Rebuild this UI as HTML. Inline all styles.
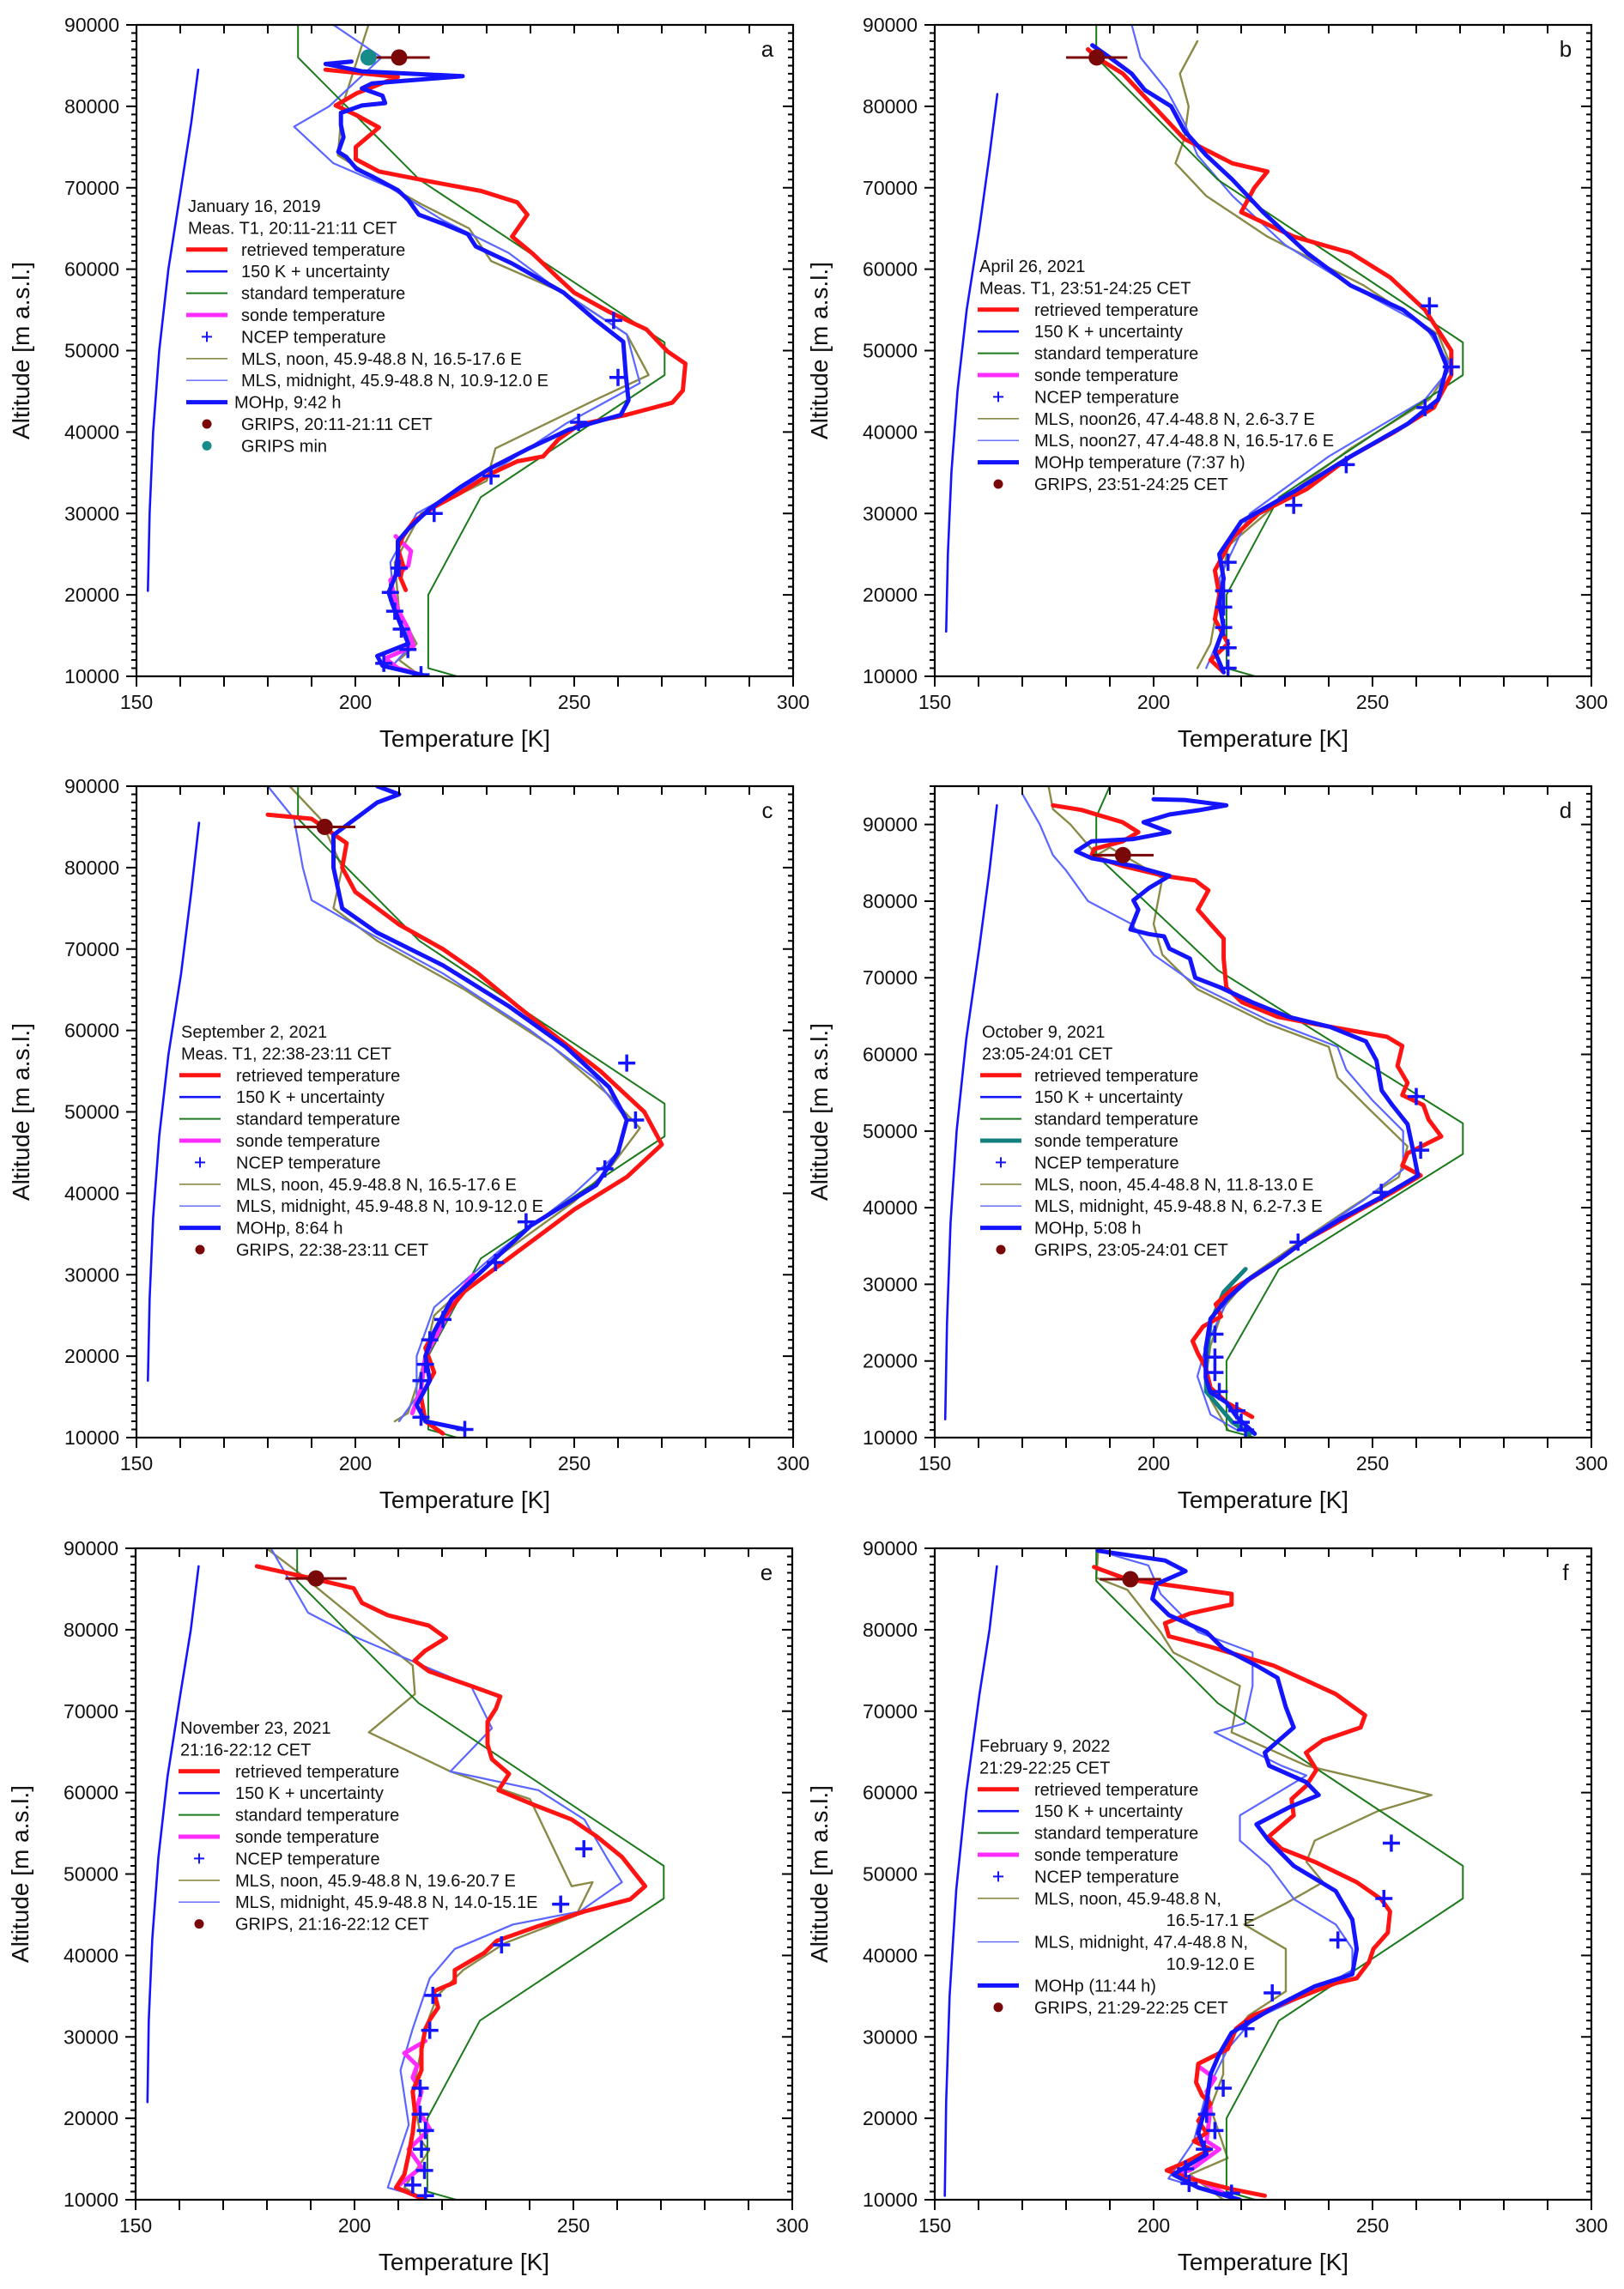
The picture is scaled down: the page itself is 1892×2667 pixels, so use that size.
<!DOCTYPE html>
<html><head><meta charset="utf-8"><title>Temperature profiles</title>
<style>
html,body{margin:0;padding:0;background:#fff;}
svg{display:block;font-family:"Liberation Sans",Arial,sans-serif;}
</style></head>
<body>
<svg id="fig" xmlns="http://www.w3.org/2000/svg" width="1892" height="2667" viewBox="0 0 1892 2667">
<rect x="0" y="0" width="1892" height="2667" fill="#fff"/>
</svg>
<script>
// ---------- data (temperature K, altitude km) ----------
const stdProfile = [[223.2,10],[216.65,11],[216.65,20],[228.65,32],[270.65,47],[270.65,51],[214.65,71],[186.9,86],[186.9,91],[190,95]];

// panel a
const a_unc = [[152.6,20.5],[153,30],[153.8,40],[155.2,50],[157.3,60],[160.2,70],[162.5,78],[164.1,84.5]];
const a_ret = [[193.2,84.5],[209.7,83.6],[200.3,81.6],[195.5,80.1],[200.3,78.9],[205.4,77.4],[200.1,75],[200.1,73.5],[205.4,72],[216.8,70.8],[228.7,69.6],[237,68.2],[239.3,66.7],[235.8,64],[240.5,61.9],[246.4,58.9],[250,57.1],[258.2,54.7],[266.5,52.6],[271.3,49.9],[275.4,48.4],[274.8,45.1],[272.4,43.6],[261.8,42.1],[251.1,40.9],[246.4,39.1],[242.9,37],[237,36.4],[231,34.9],[223.9,32.5],[218,30.8],[213.3,29],[210.9,27.2],[209.7,25.7],[210.9,23.6],[210.3,22.1],[211.5,20.6]];
const a_sonde = [[215.7,10.1],[209.7,11],[206.8,12.2],[213.3,13.7],[212.1,15.8],[209.7,18.2],[208,21.8],[212.1,23.6],[212.7,25.4],[209.2,27.2]];
const a_mohp = [[215.7,10.1],[206.2,11.3],[205,12.5],[212.1,14],[210.3,16.4],[208.5,18.8],[207.6,20.3],[209.2,22.4],[209.7,24.8],[209.7,26.6],[212.1,28.1],[216.8,30.5],[223.9,33.2],[231,35.6],[239.3,37.9],[248.8,40.3],[260.6,42.1],[262.4,43.9],[261.8,46.9],[261.2,51.1],[254.7,53.8],[247.6,57.1],[241.7,58.9],[235.8,60.7],[227.5,62.8],[225.7,64.3],[220.4,65.5],[214.5,66.7],[212.1,68.5],[209.7,69.7],[203.8,71.4],[200.3,72.3],[197.9,73.8],[196.1,74.4],[197.3,76.2],[196.7,77.7],[196.7,79.2],[201.5,80.1],[206.8,80.4],[206.2,81.3],[201.5,82.2],[203.8,82.8],[210.3,83.1],[224.5,83.7],[201.5,84.3],[193.2,85.2],[199.1,85.5]];
const a_noon = [[215,10],[210,12],[214,14],[210,18],[209,24],[215,30],[230,34],[232,38],[255,44],[267,47],[262,52],[248,57],[231,61],[226,65],[215,68],[205,71],[196,74],[197,80],[200,85],[203,90]];
const a_mid = [[208,11],[213,14],[209,18],[208,24],[214,30],[231,35],[248,41],[265,46],[262,52],[245,58],[235,62],[220,66],[208,70],[195,73],[186,77.5],[194,80],[200,83],[206,86],[195,90]];
const a_ncep = [[215,10.2],[206.5,11.6],[212,13.3],[210.5,15.8],[209,18],[208,20.3],[210,23.3],[218,30],[231,34.6],[251,41.2],[260,46.7],[259,53.7]];
const a_grips = [[210,86]];
const a_gripsMin = [[203,86]];

// panel b
const b_unc = [[152.6,15.5],[153,25],[153.8,35],[155.2,45],[157.3,55],[160.2,65],[162.5,74],[164.3,81.5]];
const b_ret = [[216,10.5],[213,12],[217,14],[214,17],[215,20],[214,23],[218,27],[224,30],[235,33],[245,37],[255,40],[264,43],[268,47],[268,50],[262,55],[254,59],[245,62],[232,64],[220,67],[223,70],[226,72],[218,73],[207,76],[200,80],[193,84],[187,86],[185,87]];
const b_mohp = [[216,10.5],[214,13],[216,16],[215,19],[216,22],[215,25],[220,29],[233,33],[245,37],[258,41],[265,44],[267,48],[264,52],[257,55],[245,58],[235,62],[225,67],[218,71],[212,74],[207,77],[204,80],[198,82],[195,84],[190,86],[186,87.5]];
const b_noon = [[210,11],[213,14],[215,20],[217,26],[230,32],[245,38],[263,44],[268,48],[265,52],[248,58],[226,64],[212,69],[205,73],[207,76],[208,80],[206,84],[210,88]];
const b_mid = [[212,11],[216,16],[215,22],[222,30],[240,37],[262,44],[268,48],[262,53],[245,58],[230,63],[218,69],[210,74],[207,78],[203,82],[197,86],[195,90]];
const b_ncep = [[217,11],[217,13.5],[216,16],[216,18.5],[216,20.5],[217,24],[232,31],[244,36],[262,43],[268,48],[263,55.5]];
const b_grips = [[187,86]];

// panel c
const c_unc = [[152.6,17],[153,27],[153.8,37],[155.2,47],[157.3,57],[160.2,67],[162.5,77],[164.3,85.5]];
const c_ret = [[220,10.5],[216,12],[215,15],[218,18],[216,21],[219,24],[225,28],[235,32],[250,38],[262,42],[270,46],[266,50],[256,55],[244,60],[237,63],[228,67],[220,70],[210,73],[200,77],[197,80],[198,83],[190,86],[180,86.5]];
const c_mohp = [[225,11],[216,12],[214,14],[217,17],[216,20],[218,23],[222,27],[230,31],[240,36],[255,41],[260,45],[262,49],[258,53],[248,58],[235,63],[220,68],[205,72],[197,75],[195,80],[195,84],[200,86],[205,88],[210,89],[205,90]];
const c_noon = [[209,12],[212,13],[215,18],[218,25],[232,32],[250,39],[258,43],[265,48],[258,52],[245,58],[225,65],[205,71],[195,75],[197,80],[192,86],[185,90]];
const c_mid = [[210,12],[214,15],[214,20],[218,26],[233,33],[250,40],[260,45],[262,49],[255,54],[240,60],[220,67],[203,72],[190,76],[188,80],[186,86],[180,90]];
const c_ncep = [[225,11],[215,12.5],[215,17],[216,19],[217,22],[220,24.5],[232,31.5],[239,36.5],[257,43],[264,49],[262,56]];
const c_sonde = [[213,13],[215,16],[216,20],[220,24],[224,28],[227,30]];
const c_grips = [[193,85]];

// panel d
const d_unc = [[152.4,12.4],[152.8,25],[153.6,38],[155,50],[157.2,62],[160.2,74],[162.5,84],[164.2,92.5]];
const d_ret = [[222.5,12.7],[216.6,14.6],[213,16.5],[211.9,19.1],[210.1,21],[208.9,22.6],[211.3,24.5],[215.4,25.8],[214.2,27.4],[217.8,29.3],[222.5,30.9],[228.4,33.1],[234.3,35.6],[240.3,37.5],[247.4,39.8],[254.5,42],[261,44.2],[256.8,45.5],[258,47.1],[265.7,49.3],[262.8,51.5],[261.6,53.4],[256.8,54.7],[258,56.3],[255.7,58.5],[256.8,61.1],[253.3,62.3],[240.3,63.6],[228.4,64.9],[220.2,66.8],[216.6,68.7],[216,72.5],[216,75.1],[213,77],[210.1,78.9],[212.5,81.4],[209.5,82.7],[202.4,83.3],[192.9,84.6],[185.8,85.9],[186.4,86.8],[192.9,87.8],[196.5,89],[192.9,90.3],[183.5,91.9],[177,92.5]];
const d_mohp = [[223.1,10.5],[219,12.7],[216.6,14.6],[213,15.9],[211.9,17.8],[211.9,21.6],[213,25.5],[216.6,28],[221.3,30.5],[228.4,33.1],[234.3,35.6],[242.6,38.5],[252.1,41.4],[260.4,44.2],[259.2,47.7],[258,50.9],[254.5,53.4],[252.1,55.3],[250.9,59.2],[248.5,61.7],[240.3,63.6],[230.8,64.9],[222.5,66.8],[215.4,68.7],[209.5,70],[208.3,72.5],[203.6,73.8],[202.4,75.4],[198.9,75.7],[194.7,76.3],[196.5,78.9],[195.4,80.1],[198.9,81.7],[203.6,83.3],[195.4,84.6],[185.8,85.6],[182.3,86.5],[185.8,87.8],[195.4,88.1],[203.6,89],[197.7,90.3],[203.6,91.3],[210.7,91.9],[216.6,92.5],[207.1,93.2],[200,93.3]];
const d_noon = [[217,11],[215,13],[213,15],[212,18],[213,22],[216,27],[222,31],[232,35],[245,40],[256,44],[258,48],[249,53],[242,57],[240,61],[226,64],[210,68.5],[202,73],[200,77],[202,83],[190,87],[187,86],[181,90],[177,92],[176,95]];
const d_mid = [[219,11],[213,13],[210,18],[212,22],[217,28],[225,32],[235,36],[248,41],[257,45],[257,50],[250,54],[244,58],[242,61],[226,64.5],[210,69],[200,73],[195,77],[185,80],[180,84],[177,86],[174,90],[170,94]];
const d_ncep = [[221,11],[220,12],[219,13.5],[215,16],[214,18.5],[214,20.5],[214,23.5],[233,35.5],[252,42],[261,47.5],[260,54.5]];
const d_sonde = [[222,10.5],[218,12],[215,14],[212,16],[212,20],[213,25],[216,29],[221,32]];
const d_grips = [[193,86]];

// panel e
const e_unc = [[152.7,22],[153,32],[153.8,42],[155.2,52],[157.3,62],[160.2,72],[162.6,80],[164.4,87.8]];
const e_ret = [[177.7,87.8],[190.3,86.3],[199.8,85.1],[201.7,83.3],[207.5,81.8],[217,80.5],[220.9,79],[216.1,77.4],[213.7,76.2],[217,74.9],[226.6,73.1],[233.3,71.8],[232.3,70.3],[230.4,68.7],[230.4,65.9],[231.4,64.1],[235.3,62.3],[232.9,60.3],[241,58.5],[249.6,56.7],[255.4,54.6],[261.1,52.1],[266.4,48.5],[263,46.9],[252.5,45.4],[242,43.6],[232.5,41.8],[229.6,40.3],[222.9,38.2],[222.9,36.7],[218.1,35.6],[219.1,33.6],[217.2,32.1],[216.2,31],[215.3,28.5],[215.3,25.9],[213.3,23.3],[213.8,20.8],[213.3,18.2],[212.4,15.6],[211.4,13.1],[209.5,11.5],[216.2,10]];
const e_noon = [[179.9,90],[187.5,86.9],[203.8,79.7],[213.3,75.6],[213.8,72.1],[203.3,67.4],[221.9,62.6],[240.1,59.2],[249.6,48.5],[254.4,49],[250.6,44.9],[234.3,41.5],[224.8,38.2],[219,35.1],[217.2,32.6],[215.3,28.5],[213.3,23.3],[215.3,17.2],[217,16],[211.4,11.5],[216,10]];
const e_mid = [[180.9,90],[189.4,82.1],[199.8,79.2],[226.6,73.1],[231.4,67.9],[221.9,62.6],[242,60.3],[252.5,56.7],[258.2,51.5],[261.1,49],[251.5,45.4],[236.2,43.8],[222.9,40.8],[217.2,37.2],[213.3,31],[210.5,25.9],[212.4,19.2],[207.6,11.5],[214,10.5]];
const e_ncep = [[252.4,53.1],[247.1,46.3],[233.6,41.3],[217.9,35.1],[217.2,30.8],[215,23.7],[215,20.5],[216.2,18.5],[215.3,16.2],[216,13.6],[213.3,11.8],[216.2,10.5]];
const e_sonde = [[216.2,29.5],[211.4,28],[214.3,26.5],[213.3,25],[215.3,23.3],[214.3,21.3],[217.2,18.7],[212.4,16.2],[215.3,14],[209.5,11.5],[216.2,10]];
const e_grips = [[191.2,86.3]];

// panel f
const f_unc = [[152.3,10.5],[152.6,22],[153.4,35],[154.9,48],[157.2,60],[160.2,72],[162.5,80],[164.2,87.8]];
const f_ret = [[186.4,87.7],[194,86.2],[204.5,85.4],[217.8,84.4],[217.8,83.1],[208.3,82],[202.6,80.8],[203.5,79.2],[213,77.9],[227.4,75.6],[241.6,72.1],[248.3,69.5],[247.3,68],[238.6,66.4],[234.8,64.9],[237.2,62.8],[234.8,60.8],[231.5,59.2],[232,57.2],[226.3,54.6],[229.2,53.1],[236.8,51.5],[246.4,49],[252,46.9],[254,45.4],[253.5,42.8],[250.2,40.8],[249.2,39.2],[246.4,37.2],[241.6,36.6],[232,34.6],[222.6,32.6],[218.8,31],[216.9,28.5],[210.2,26.7],[209.7,24.4],[211.1,22.8],[213,21.8],[210.2,19.7],[212.1,18.2],[209.2,17.2],[213,16.2],[207.3,14.6],[203,13.6],[208.3,12.6],[217.8,11.3],[225.4,10.5]];
const f_mohp = [[187.3,89.7],[202.6,88.5],[207.3,87.2],[200.6,85.6],[199.7,83.8],[203.5,81.8],[212.1,79.7],[215.9,77.7],[223.5,75.6],[228.3,74.1],[230.2,70.5],[232,68],[225.4,64.9],[226.4,63.3],[234.8,61.3],[237.7,59.7],[231,58.2],[223.5,56.1],[226.3,54.1],[232,51],[241.6,47.9],[245.4,44.4],[246.4,40.8],[245.4,37.7],[236.8,36.2],[227.4,33.6],[217.8,30.5],[215,27.9],[213,25.4],[212.1,21.8],[210.2,18.2],[212.1,15.6],[204.5,13.1],[210.2,11.5],[219.7,10]];
const f_noon = [[187.3,89.5],[186.9,86.4],[194,84.9],[201.6,79.7],[204.5,77.2],[219.7,73.1],[217.8,67.4],[234.9,63.3],[263.5,59.7],[251.1,57.7],[236.8,54.1],[234.9,51.5],[238.7,49],[230.2,46.4],[220.7,43.8],[230.2,40.8],[230.2,35.6],[221.6,32.6],[215.9,28.5],[215.9,25.4],[213,21.3],[216.9,15.1],[208.3,13.1],[215.9,10]];
const f_mid = [[187.3,89.7],[198.8,87.9],[201.6,84.4],[210.2,79.7],[222.6,77.2],[222.6,73.1],[220.7,68.5],[213.9,67.4],[229.2,63.3],[234.9,62.1],[219.7,57.2],[219.7,54.1],[226.4,51],[232.1,46.9],[241.6,43.8],[245.4,40.8],[245.4,38.2],[236.8,35.6],[222.6,32.1],[216.9,28.5],[212.1,23.3],[209.2,17.2],[203.4,12.6],[210.2,11.5]];
const f_ncep = [[254.3,53.8],[252.6,47],[242.1,41.9],[227.1,35.4],[221.1,31],[215.9,23.7],[212.1,20.5],[214,18.5],[211.6,16.2],[207.3,13.8],[208.1,12],[217.8,10.8]];
const f_sonde = [[210.2,26.4],[214,24.9],[212.1,23.3],[213,21.3],[212.1,17.2],[215,16.2],[208.3,13.6],[205,13.3],[212,12],[218,10.2]];
const f_grips = [[194.7,86.2]];

// axis tick values
const xTickLabels = [150,200,250,300];
const yTickLabels = [10000,20000,30000,40000,50000,60000,70000,80000,90000];

// legend texts
const a_title = ["January 16, 2019","Meas. T1, 20:11-21:11 CET"];
const b_title = ["April 26, 2021","Meas. T1, 23:51-24:25 CET"];
const c_title = ["September 2, 2021","Meas. T1, 22:38-23:11 CET"];
const d_title = ["October 9, 2021","23:05-24:01 CET"];
const e_title = ["November 23, 2021","21:16-22:12 CET"];
const f_title = ["February 9, 2022","21:29-22:25 CET"];

const a_leg = [["ret","retrieved temperature"],["unc","150 K + uncertainty"],["std","standard temperature"],["sonde","sonde temperature"],["ncep","NCEP temperature"],["noon","MLS, noon, 45.9-48.8 N, 16.5-17.6 E"],["mid","MLS, midnight, 45.9-48.8 N, 10.9-12.0 E"],["mohp","MOHp, 9:42 h"],["grips","GRIPS, 20:11-21:11 CET"],["gmin","GRIPS min"]];
const b_leg = [["ret","retrieved temperature"],["unc","150 K + uncertainty"],["std","standard temperature"],["sonde","sonde temperature"],["ncep","NCEP temperature"],["noon","MLS, noon26, 47.4-48.8 N, 2.6-3.7 E"],["mid","MLS, noon27, 47.4-48.8 N, 16.5-17.6 E"],["mohp","MOHp temperature (7:37 h)"],["grips","GRIPS, 23:51-24:25 CET"]];
const c_leg = [["ret","retrieved temperature"],["unc","150 K + uncertainty"],["std","standard temperature"],["sonde","sonde temperature"],["ncep","NCEP temperature"],["noon","MLS, noon, 45.9-48.8 N, 16.5-17.6 E"],["mid","MLS, midnight, 45.9-48.8 N, 10.9-12.0 E"],["mohp","MOHp, 8:64 h"],["grips","GRIPS, 22:38-23:11 CET"]];
const d_leg = [["ret","retrieved temperature"],["unc","150 K + uncertainty"],["std","standard temperature"],["sondeT","sonde temperature"],["ncep","NCEP temperature"],["noon","MLS, noon, 45.4-48.8 N, 11.8-13.0 E"],["mid","MLS, midnight, 45.9-48.8 N, 6.2-7.3 E"],["mohp","MOHp, 5:08 h"],["grips","GRIPS, 23:05-24:01 CET"]];
const e_leg = [["ret","retrieved temperature"],["unc","150 K + uncertainty"],["std","standard temperature"],["sonde","sonde temperature"],["ncep","NCEP temperature"],["noon","MLS, noon, 45.9-48.8 N, 19.6-20.7 E"],["mid","MLS, midnight, 45.9-48.8 N, 14.0-15.1E"],["grips","GRIPS, 21:16-22:12 CET"]];
const f_leg = [["ret","retrieved temperature"],["unc","150 K + uncertainty"],["std","standard temperature"],["sonde","sonde temperature"],["ncep","NCEP temperature"],["noon","MLS, noon, 45.9-48.8 N,"],["cont","16.5-17.1 E"],["mid","MLS, midnight, 47.4-48.8 N,"],["cont","10.9-12.0 E"],["mohp","MOHp (11:44 h)"],["grips","GRIPS, 21:29-22:25 CET"]];

// ---------- drawing ----------
const NS = "http://www.w3.org/2000/svg";
const svg = document.getElementById("fig");
const COL = {ret:"#ff1414",unc:"#1414ff",std:"#1c7a1c",sonde:"#ff2cff",sondeT:"#138080",ncep:"#1414ff",noon:"#8a8a48",mid:"#5a66ff",mohp:"#1414ff",grips:"#7a0808",gmin:"#178a8a"};
const W = 765, H = 759;

function el(tag, attrs, parent){
  const e = document.createElementNS(NS, tag);
  for (const k in attrs) e.setAttribute(k, attrs[k]);
  (parent || svg).appendChild(e);
  return e;
}

const panels = [
  {id:"a",L:159,T:29,ymax:90,unc:a_unc,ret:a_ret,mohp:a_mohp,noon:a_noon,mid:a_mid,ncep:a_ncep,sonde:a_sonde,sondeCol:"sonde",grips:a_grips,gmin:a_gripsMin,title:a_title,leg:a_leg,lx:60,tx:122,ly:240},
  {id:"b",L:1089,T:29,ymax:90,unc:b_unc,ret:b_ret,mohp:b_mohp,noon:b_noon,mid:b_mid,ncep:b_ncep,sonde:null,grips:b_grips,title:b_title,leg:b_leg,lx:52,tx:116,ly:310},
  {id:"c",L:159,T:916,ymax:90,unc:c_unc,ret:c_ret,mohp:c_mohp,noon:c_noon,mid:c_mid,ncep:c_ncep,sonde:c_sonde,sondeCol:"sonde",grips:c_grips,title:c_title,leg:c_leg,lx:52,tx:116,ly:1202},
  {id:"d",L:1089,T:916,ymax:95,unc:d_unc,ret:d_ret,mohp:d_mohp,noon:d_noon,mid:d_mid,ncep:d_ncep,sonde:d_sonde,sondeCol:"sondeT",grips:d_grips,title:d_title,leg:d_leg,lx:55,tx:116,ly:1202},
  {id:"e",L:158,T:1804,ymax:90,unc:e_unc,ret:e_ret,mohp:null,noon:e_noon,mid:e_mid,ncep:e_ncep,sonde:e_sonde,sondeCol:"sonde",grips:e_grips,title:e_title,leg:e_leg,lx:52,tx:116,ly:2013},
  {id:"f",L:1089,T:1804,ymax:90,unc:f_unc,ret:f_ret,mohp:f_mohp,noon:f_noon,mid:f_mid,ncep:f_ncep,sonde:f_sonde,sondeCol:"sonde",grips:f_grips,title:f_title,leg:f_leg,lx:52,tx:116,ly:2034}
];

panels.forEach(p => {
  const xs = t => p.L + (t - 150) / 150 * W;
  const ys = km => p.T + H - (km - 10) / (p.ymax - 10) * H;
  const g = el("g", {});
  
  
  const cid = "clip" + p.id;
  const cp = el("clipPath", {id: cid}, g);
  el("rect", {x: p.L, y: p.T, width: W, height: H}, cp);
  const plot = el("g", {"clip-path": "url(#" + cid + ")"}, g);
  
  

  function line(data, col, w, name){
    const d = data.map((pt, i) => (i ? "L" : "M") + xs(pt[0]).toFixed(1) + " " + ys(pt[1]).toFixed(1)).join(" ");
    const path = el("path", {d: d, fill: "none", stroke: col, "stroke-width": w, "stroke-linejoin": "round", "stroke-linecap": "round"}, plot);
    
    
  }
  line(p.noon, COL.noon, 2.4, "mls-noon-line");
  line(p.mid, COL.mid, 2.2, "mls-midnight-line");
  line(stdProfile, COL.std, 2, "standard-temperature-line");
  line(p.unc, COL.unc, 2.6, "uncertainty-line");
  if (p.sonde) line(p.sonde, COL[p.sondeCol], 5, "sonde-temperature-line");
  line(p.ret, COL.ret, 5, "retrieved-temperature-line");
  if (p.mohp) line(p.mohp, COL.mohp, 5, "mohp-line");
  p.ncep.forEach(pt => {
    const cx = xs(pt[0]), cy = ys(pt[1]);
    const m = el("path", {d: `M${cx-10} ${cy}H${cx+10}M${cx} ${cy-10}V${cy+10}`, stroke: COL.ncep, "stroke-width": 3.5, fill: "none"}, plot);
    
    
  });
  p.grips.forEach(pt => {
    const cx = xs(pt[0]), cy = ys(pt[1]);
    const eb = el("line", {x1: xs(pt[0]-7), x2: xs(pt[0]+7), y1: cy, y2: cy, stroke: COL.grips, "stroke-width": 3}, plot);
    
    
    const c = el("circle", {cx: cx, cy: cy, r: 9.5, fill: COL.grips}, plot);
    
    
  });
  if (p.gmin) p.gmin.forEach(pt => {
    const c = el("circle", {cx: xs(pt[0]), cy: ys(pt[1]), r: 9.5, fill: COL.gmin}, plot);
    
    
  });

  const fr = el("rect", {x: p.L, y: p.T, width: W, height: H, fill: "none", stroke: "#000", "stroke-width": 2.2}, g);
  
  
  let td = "";
  for (let t = 150; t <= 300; t += 10) {
    const x = xs(t);
    td += `M${x} ${p.T+H}V${p.T+H+12}M${x} ${p.T}V${p.T+10}`;
  }
  for (let km = 10; km <= p.ymax; km += 1) {
    const y = ys(km);
    const len = (km % 10 === 0) ? 12 : 6;
    td += `M${p.L} ${y}H${p.L-len}M${p.L+W} ${y}H${p.L+W-len}`;
  }
  const ticks = el("path", {d: td, stroke: "#000", "stroke-width": 2, fill: "none"}, g);
  
  
  xTickLabels.forEach(v => {
    const t = el("text", {x: xs(v), y: p.T + H + 38, "font-size": 23, "text-anchor": "middle", fill: "#111"}, g);
    t.textContent = v;
    
    
  });
  yTickLabels.forEach(v => {
    const t = el("text", {x: p.L - 20, y: ys(v / 1000) + 8, "font-size": 23, "text-anchor": "end", fill: "#111"}, g);
    t.textContent = v;
    
    
  });
  const xt = el("text", {x: p.L + W/2, y: p.T + H + 82, "font-size": 28, "text-anchor": "middle", fill: "#111"}, g);
  xt.textContent = "Temperature [K]";
  
  
  const yx = p.L - 125, yy = p.T + H/2;
  const yt = el("text", {x: yx, y: yy, "font-size": 28, "text-anchor": "middle", transform: `rotate(-90 ${yx} ${yy})`, fill: "#111"}, g);
  yt.textContent = "Altitude [m a.s.l.]";
  
  
  const pl = el("text", {x: p.L + W - 30, y: p.T + 37, "font-size": 26, "text-anchor": "middle", fill: "#111"}, g);
  pl.textContent = p.id;
  
  

  const lg = el("g", {}, g);
  
  
  const rs = 25.4;
  p.title.forEach((s, i) => {
    const t = el("text", {x: p.L + p.lx, y: p.ly + i*rs + 7, "font-size": 20, fill: "#111"}, lg);
    t.textContent = s;
    
    
  });
  p.leg.forEach((it, i) => {
    const y = p.ly + (i + 2) * rs;
    const x0 = p.L + p.lx - 2, x1 = x0 + 48, tx = p.L + p.tx;
    const k = it[0];
    const ent = el("g", {}, lg);
    
    
    const wmap = {ret:5, unc:2.6, std:2, sonde:5, sondeT:5, noon:1.6, mid:1.4, mohp:5};
    if (wmap[k]) {
      el("line", {x1: x0, x2: x1, y1: y, y2: y, stroke: COL[k], "stroke-width": wmap[k]}, ent);
    } else if (k === "ncep") {
      const cx = (x0 + x1)/2;
      el("path", {d: `M${cx-6} ${y}H${cx+6}M${cx} ${y-6}V${y+6}`, stroke: COL.ncep, "stroke-width": 2}, ent);
    } else if (k === "grips" || k === "gmin") {
      el("circle", {cx: (x0 + x1)/2, cy: y, r: 5.5, fill: COL[k]}, ent);
    }
    let t;
    if (k === "cont") {
      t = el("text", {x: p.L + 373, y: y + 7, "font-size": 20, "text-anchor": "end", fill: "#111"}, ent);
    } else {
      t = el("text", {x: (k === "mohp" && p.id === "a") ? tx - 8 : tx, y: y + 7, "font-size": 20, fill: "#111"}, ent);
    }
    t.textContent = it[1];
  });
});
</script>
</body></html>
